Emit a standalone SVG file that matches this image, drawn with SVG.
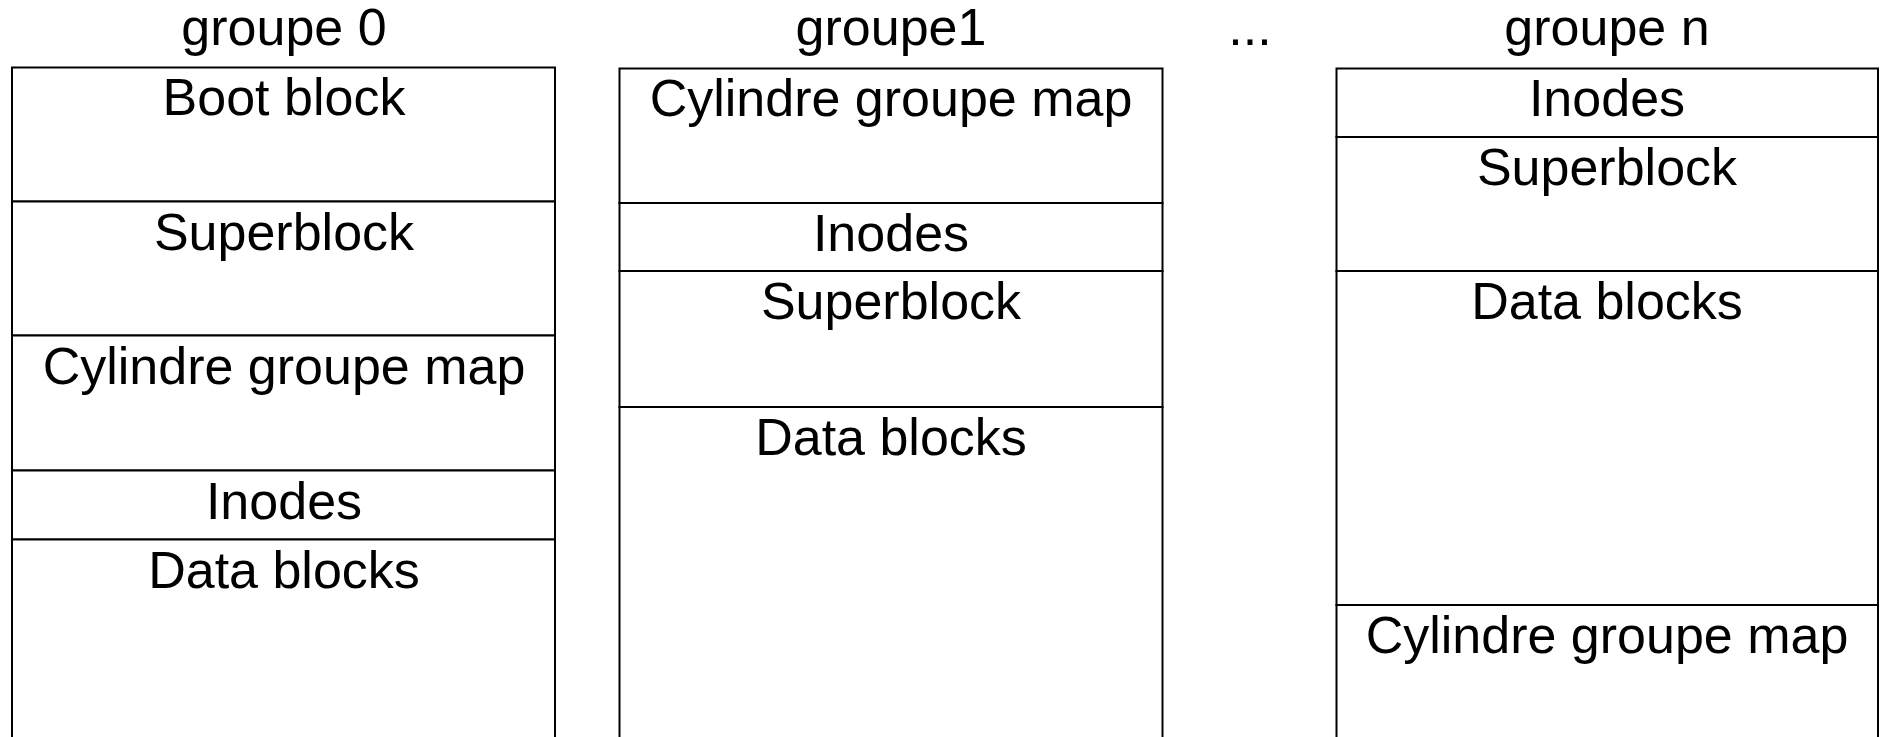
<svg xmlns="http://www.w3.org/2000/svg" width="1883" height="737" viewBox="0 0 1883 737">
<style>
.cell{fill:#fff;stroke:#000;stroke-width:2}
text{font-family:"Liberation Sans",Arial,sans-serif;font-size:52px;fill:#000;text-anchor:middle}
</style>
<rect x="0" y="0" width="1883" height="737" fill="#fff"/>
<g id="title-groupe0"><text x="284" y="45">groupe 0</text></g>
<g id="title-groupe1"><text x="891" y="45">groupe1</text></g>
<g id="title-dots"><text x="1250" y="45">...</text></g>
<g id="title-groupen"><text x="1607" y="45">groupe n</text></g>

<g id="g0-boot"><rect class="cell" x="12" y="67.5" width="543" height="134"/><text x="284" y="114.5">Boot block</text></g>
<g id="g0-super"><rect class="cell" x="12" y="201.5" width="543" height="134"/><text x="284" y="250">Superblock</text></g>
<g id="g0-cyl"><rect class="cell" x="12" y="335.5" width="543" height="135"/><text x="284" y="383.5">Cylindre groupe map</text></g>
<g id="g0-inodes"><rect class="cell" x="12" y="470.5" width="543" height="69"/><text x="284" y="519">Inodes</text></g>
<g id="g0-data"><rect class="cell" x="12" y="539.5" width="543" height="210"/><text x="284" y="588">Data blocks</text></g>

<g id="g1-cyl"><rect class="cell" x="619.5" y="68.5" width="543" height="134.5"/><text x="891" y="116">Cylindre groupe map</text></g>
<g id="g1-inodes"><rect class="cell" x="619.5" y="203" width="543" height="68"/><text x="891" y="251">Inodes</text></g>
<g id="g1-super"><rect class="cell" x="619.5" y="271" width="543" height="136"/><text x="891" y="319">Superblock</text></g>
<g id="g1-data"><rect class="cell" x="619.5" y="407" width="543" height="340"/><text x="891" y="455">Data blocks</text></g>

<g id="gn-inodes"><rect class="cell" x="1336.5" y="68.5" width="541.5" height="68.5"/><text x="1607" y="116">Inodes</text></g>
<g id="gn-super"><rect class="cell" x="1336.5" y="137" width="541.5" height="134"/><text x="1607" y="185">Superblock</text></g>
<g id="gn-data"><rect class="cell" x="1336.5" y="271" width="541.5" height="334"/><text x="1607" y="319">Data blocks</text></g>
<g id="gn-cyl"><rect class="cell" x="1336.5" y="605" width="541.5" height="145"/><text x="1607" y="653">Cylindre groupe map</text></g>
</svg>
